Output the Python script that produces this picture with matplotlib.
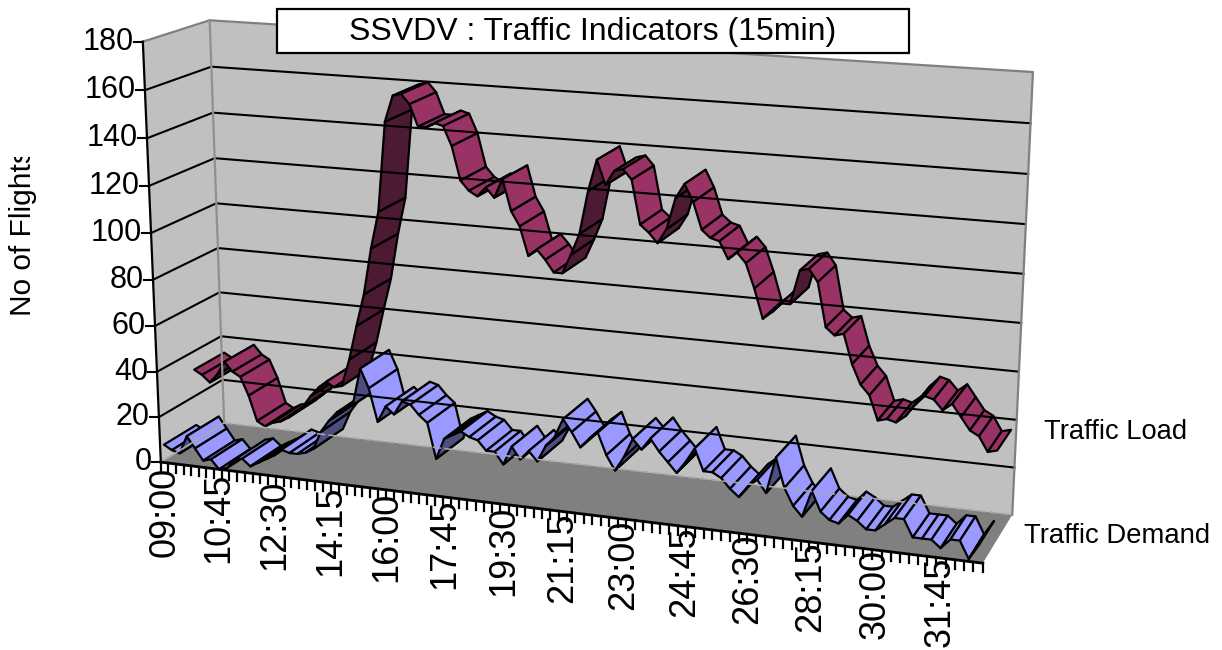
import numpy as np
import matplotlib
matplotlib.use("Agg")
import matplotlib.pyplot as plt
from matplotlib.patches import Rectangle

plt.rcParams['font.family'] = ['Liberation Sans', 'DejaVu Sans']

# one label every 7 categories, 15 minute steps
time_labels = ["09:00", "10:45", "12:30", "14:15", "16:00", "17:45", "19:30",
               "21:15", "23:00", "24:45", "26:30", "28:15", "30:00", "31:45"]
y_ticks = [0, 20, 40, 60, 80, 100, 120, 140, 160, 180]

traffic_load = [33, 31, 28, 32, 38, 34, 32, 24, 13, 11, 13, 14, 16, 19, 22, 27,
                31, 34, 32, 33, 45, 60, 74, 94, 110, 148, 159, 160, 156, 147, 147, 149,
                148, 140, 126, 122, 120, 124, 120, 128, 115, 109, 97, 100, 96, 91, 91, 99,
                108, 126, 139, 129, 135, 136, 132, 114, 111, 107, 113, 126, 132, 125, 114, 111,
                110, 103, 106, 102, 92, 80, 83, 87, 87, 101, 102, 97, 79, 76, 77, 65,
                57, 53, 43, 44, 43, 46, 51, 55, 54, 50, 53, 48, 43, 41, 35, 36]
traffic_demand = [8, 6, 5, 13, 8, 3, 4, 0, 1, 5, 6, 3, 5, 7, 9, 12,
                  11, 11, 12, 14, 22, 27, 31, 33, 35, 51, 43, 29, 36, 33, 39, 38,
                  34, 31, 16, 25, 27, 29, 27, 26, 22, 22, 17, 25, 20, 24, 20, 27,
                  31, 39, 34, 28, 32, 35, 26, 20, 26, 34, 30, 35, 30, 26, 22, 27,
                  33, 24, 24, 22, 18, 15, 20, 23, 18, 33, 21, 14, 10, 21, 13, 10,
                  9, 13, 11, 8, 8, 11, 14, 14, 7, 7, 7, 4, 8, 8, 1, 7]

# chart box corners: (category, depth, height) -> pixel
corners_3d = [(0, 0, 0), (0, 0, 1), (0, 1, 1), (0, 1, 0), (1, 1, 1), (1, 1, 0), (1, 0, 0)]
corners_px = [(160, 462), (143.5, 42), (209, 20), (225, 423), (1033, 72), (1012, 515), (983, 563)]


def fit_camera(pts3, pts2):
    rows = []
    for (x, z, v), (u, w) in zip(pts3, pts2):
        u, w = u / 1000, w / 1000
        rows.append([x, z, v, 1, 0, 0, 0, 0, -u * x, -u * z, -u * v, -u])
        rows.append([0, 0, 0, 0, x, z, v, 1, -w * x, -w * z, -w * v, -w])
    return np.linalg.svd(np.array(rows))[2][-1].reshape(3, 4)


cam = fit_camera(corners_3d, corners_px)


def project(x, z, value):
    p = cam @ np.array([x, z, value / 180, 1.0])
    return p[0] / p[2] * 1000, p[1] / p[2] * 1000


def poly_area(pts):
    xs, ys = np.array(pts).T
    return np.dot(xs, np.roll(ys, -1)) - np.dot(ys, np.roll(xs, -1))


def draw_ribbon(ax, values, z0, z1, light, dark):
    n = len(values)
    for i in range(n - 1):
        x0, x1 = (i + 0.5) / n, (i + 1.5) / n
        quad = [project(x0, z0, values[i]), project(x1, z0, values[i + 1]),
                project(x1, z1, values[i + 1]), project(x0, z1, values[i])]
        # sign of the area tells whether we see the top or the underside
        color = light if poly_area(quad) < 0 else dark
        xs, ys = zip(*quad)
        ax.fill(xs, ys, facecolor=color, edgecolor='black', linewidth=1.6, joinstyle='round')


fig = plt.figure(figsize=(12.22, 6.5), dpi=100)
ax = fig.add_axes([0, 0, 1, 1])
ax.set_xlim(0, 1222)
ax.set_ylim(650, 0)
ax.axis('off')

# walls and floor
left_wall = [project(0, 0, 0), project(0, 1, 0), project(0, 1, 180), project(0, 0, 180)]
back_wall = [project(0, 1, 0), project(1, 1, 0), project(1, 1, 180), project(0, 1, 180)]
floor = [project(0, 0, 0), project(1, 0, 0), project(1, 1, 0), project(0, 1, 0)]
ax.fill(*zip(*left_wall), color='#c0c0c0', linewidth=0)
ax.fill(*zip(*back_wall), color='#c0c0c0', linewidth=0)
ax.fill(*zip(*floor), color='#808080', linewidth=0)

for v in y_ticks[1:-1]:
    pts = [project(0, 0, v), project(0, 1, v), project(1, 1, v)]
    ax.plot(*zip(*pts), color='black', linewidth=1.5)

edge = [project(0, 0, 180), project(0, 1, 180), project(1, 1, 180), project(1, 1, 0)]
ax.plot(*zip(*edge), color='#808080', linewidth=1.6)
ax.plot(*zip(project(0, 1, 180), project(0, 1, 0)), color='#909090', linewidth=1.6)
ax.plot(*zip(project(0, 1, 0), project(1, 1, 0)), color='#a8a8a8', linewidth=1.2, linestyle=(0, (5, 2)))
ax.plot(*zip(project(0, 0, 0), project(0, 1, 0)), color='#a8a8a8', linewidth=1.2)

# axes
ax.plot(*zip(project(0, 0, 0), project(0, 0, 180)), color='black', linewidth=1.6)
ax.plot(*zip(project(0, 0, 0), project(1, 0, 0)), color='black', linewidth=2)
for v in y_ticks:
    px, py = project(0, 0, v)
    ax.plot([px - 9, px], [py, py], color='black', linewidth=1.5)
    ax.text(px - 9, py, str(v), ha='right', va='center', fontsize=22)

n_ticks = 98
for k in range(n_ticks + 1):
    px, py = project(k / n_ticks, 0, 0)
    ax.plot([px, px], [py, py + 9], color='black', linewidth=1.6)

for k, label in enumerate(time_labels):
    xf = (k * 7 + 0.5) / len(traffic_load)
    px, py = project(xf, 0, 0)
    ax.text(px, py + 4 - 6 * xf, label, rotation=90, ha='center', va='top', fontsize=26)

# back series first
draw_ribbon(ax, traffic_load, 0.5, 0.98, '#993366', '#4d1a33')
draw_ribbon(ax, traffic_demand, 0.0, 0.5, '#9999ff', '#4d4d80')

# title and labels
ax.add_patch(Rectangle((277, 9), 632, 44, facecolor='white', edgecolor='black', linewidth=1.6, zorder=5))
ax.text(593, 32, "SSVDV : Traffic Indicators (15min)", ha='center', va='center', fontsize=23, zorder=6)

# the axis title is cut off at its top end
name = ax.text(23, 316, "No of Flights", rotation=90, ha='center', va='bottom', fontsize=21.5, clip_on=True)
name.set_clip_path(Rectangle((0, 157), 60, 170, transform=ax.transData))
ax.text(1044, 432, "Traffic Load", ha='left', va='center', fontsize=19.7)
ax.text(1024, 536, "Traffic Demand", ha='left', va='center', fontsize=19.8)

fig.savefig("out.png", dpi=100)
